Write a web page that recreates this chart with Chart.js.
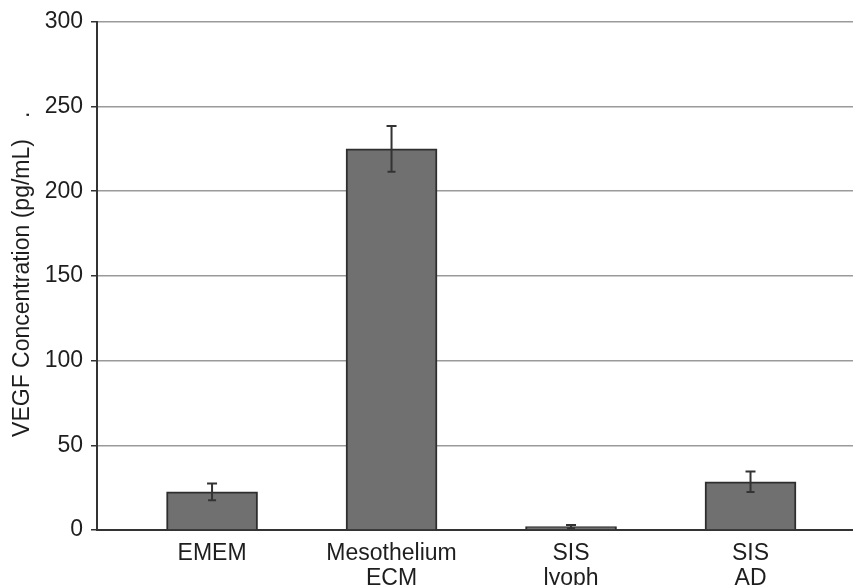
<!DOCTYPE html>
<html>
<head>
<meta charset="utf-8">
<script src="https://cdn.jsdelivr.net/npm/chart.js@4/dist/chart.umd.min.js"></script>
<style>
html,body{margin:0;padding:0;background:#fff;}
#wrap{width:853px;height:585px;}
</style>
</head>
<body>
<div id="wrap"><canvas id="c" width="853" height="585"></canvas></div>
<script>
const categories = [["EMEM"], ["Mesothelium", "ECM"], ["SIS", "lyoph"], ["SIS", "AD"]];
const values = [22.5, 225, 2, 28.5];
const errors = [5, 13.5, 1, 6];
const yTicks = [0, 50, 100, 150, 200, 250, 300];
const yTitle = "VEGF Concentration (pg/mL)";

const FONT = 'Liberation Sans, Arial, sans-serif';

const errorBars = {
  id: 'errorBars',
  afterDatasetsDraw(chart) {
    const ctx = chart.ctx;
    const ys = chart.scales.y;
    const meta = chart.getDatasetMeta(0);
    ctx.save();
    ctx.strokeStyle = '#333';
    ctx.lineWidth = 2;
    meta.data.forEach((bar, i) => {
      const x = bar.x;
      const top = ys.getPixelForValue(values[i] + errors[i]);
      const bot = ys.getPixelForValue(values[i] - errors[i]);
      ctx.beginPath();
      ctx.moveTo(x, top); ctx.lineTo(x, bot);
      ctx.moveTo(x - 5, top); ctx.lineTo(x + 5, top);
      ctx.moveTo(x - 4, bot); ctx.lineTo(x + 4, bot);
      ctx.stroke();
    });
    ctx.restore();
  }
};

const yTitlePlugin = {
  id: 'yTitle',
  afterDraw(chart) {
    const ctx = chart.ctx;
    ctx.save();
    ctx.translate(23, 288);
    ctx.rotate(-Math.PI / 2);
    ctx.fillStyle = '#1e1e1e';
    ctx.font = '23px ' + FONT;
    ctx.textAlign = 'center';
    ctx.textBaseline = 'middle';
    ctx.fillText(yTitle, 0, 0);
    ctx.textAlign = 'left';
    ctx.fillText('.', 170, 0);
    ctx.restore();
  }
};

new Chart(document.getElementById('c'), {
  type: 'bar',
  data: {
    datasets: [{
      data: values.map((v, i) => ({ x: i + 1, y: v })),
      backgroundColor: '#707070',
      borderColor: '#2e2e2e',
      borderWidth: 2,
      barThickness: 91
    }]
  },
  options: {
    responsive: false,
    animation: false,
    layout: { padding: { top: 21, right: 0, left: 0, bottom: 0 } },
    plugins: { legend: { display: false }, tooltip: { enabled: false } },
    scales: {
      x: {
        type: 'linear',
        offset: false,
        min: 0.359,
        max: 4.571,
        afterBuildTicks: s => { s.ticks = categories.map((_, i) => ({ value: i + 1 })); },
        afterFit: s => { s.height = 55; },
        grid: { display: false },
        border: { display: true, color: '#333', width: 2 },
        ticks: {
          autoSkip: false,
          maxRotation: 0,
          padding: 3,
          color: '#1e1e1e',
          font: { family: FONT, size: 23, lineHeight: 1.1 },
          callback: v => categories[v - 1] || ''
        }
      },
      y: {
        min: 0,
        max: 300,
        afterBuildTicks: s => { s.ticks = yTicks.map(v => ({ value: v })); },
        afterFit: s => { s.width = 97; },
        grid: {
          color: ctx => ctx.tick && ctx.tick.value === 0 ? '#333' : '#9a9a9a',
          lineWidth: 1.5,
          tickColor: '#333',
          tickLength: 6
        },
        border: { display: true, color: '#333', width: 2 },
        ticks: {
          padding: 8,
          color: '#1e1e1e',
          font: { family: FONT, size: 23 }
        }
      }
    }
  },
  plugins: [errorBars, yTitlePlugin]
});
</script>
</body>
</html>
